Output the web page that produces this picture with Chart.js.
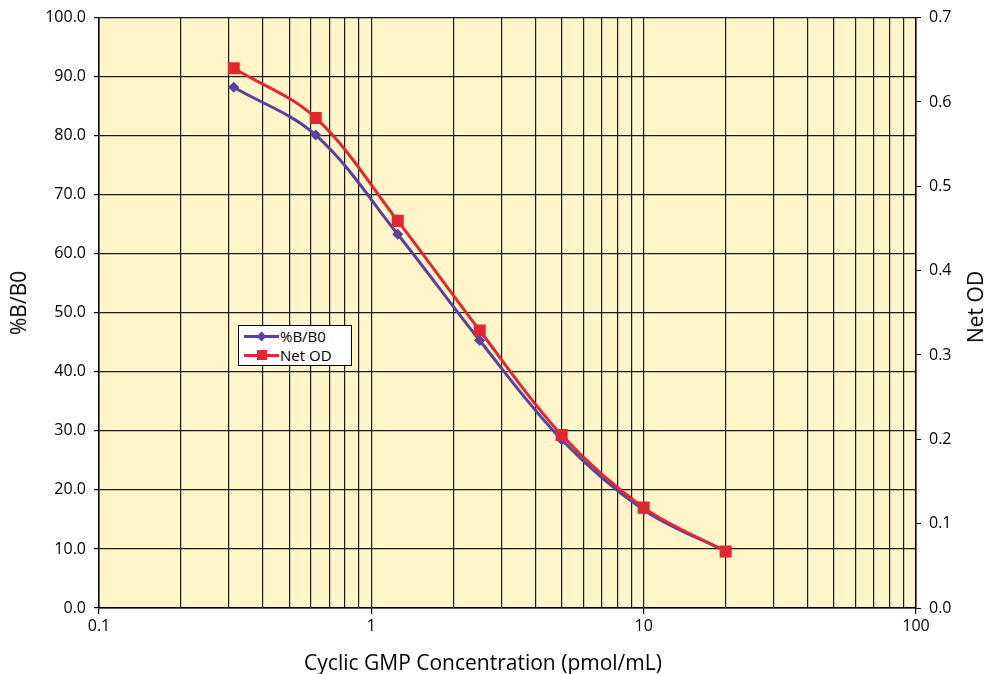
<!DOCTYPE html>
<html>
<head>
<meta charset="utf-8">
<script src="https://cdn.jsdelivr.net/npm/chart.js@4/dist/chart.umd.min.js"></script>
<style>
  html,body{margin:0;padding:0;background:#fff;}
  #wrap{position:relative;width:988px;height:674px;font-family:"Open Sans",sans-serif;}
  #legend{position:absolute;left:238px;top:325px;width:114px;height:41px;background:#fff;border:1px solid #000;box-sizing:border-box;font-size:15px;color:#000;}
  .li{position:absolute;left:5px;height:18px;line-height:18px;}
  .li span.sw{display:inline-block;position:relative;width:36px;height:18px;vertical-align:top;}
  .li span.ln{position:absolute;left:0;top:8px;width:35px;height:3px;}
  .li span.mk{position:absolute;}
  .ttl{position:absolute;font-size:21px;color:#000;white-space:nowrap;}
  #ytitle{left:18px;top:303px;transform:translate(-50%,-50%) rotate(-90deg);}
  #rtitle{left:975px;top:307px;transform:translate(-50%,-50%) rotate(-90deg);}
  #xtitle{left:483px;top:662px;transform:translate(-50%,-50%);}
</style>
</head>
<body>
<div id="wrap">
<canvas id="c" width="988" height="674"></canvas>
<div id="legend"></div>
<div id="ytitle" class="ttl"></div>
<div id="rtitle" class="ttl"></div>
<div id="xtitle" class="ttl"></div>
</div>
<script>
const concentrations = [0.3125, 0.625, 1.25, 2.5, 5, 10, 20];
const pctBB0 = [88.2, 80.1, 63.3, 45.3, 28.5, 16.6, 9.6];
const netOD = [0.640, 0.581, 0.459, 0.329, 0.205, 0.119, 0.067];
const xTicks = [0.1,0.2,0.3,0.4,0.5,0.6,0.7,0.8,0.9,1,2,3,4,5,6,7,8,9,10,20,30,40,50,60,70,80,90,100];
const xLabels = [0.1, 1, 10, 100];
const seriesNames = ['%B/B0', 'Net OD'];
const axisTitles = {x: 'Cyclic GMP Concentration (pmol/mL)', y: '%B/B0', y2: 'Net OD'};

const PURPLE = '#5b3fa3';
const RED = '#e0282e';
const FONT = '"Open Sans", sans-serif';

const bgPlugin = {
  id: 'bg',
  beforeDraw(chart) {
    const {ctx, chartArea: a} = chart;
    ctx.save();
    ctx.fillStyle = '#fff5c9';
    ctx.fillRect(a.left, a.top, a.right - a.left, a.bottom - a.top);
    ctx.restore();
  }
};

const isMajor = v => xLabels.some(m => Math.abs(m - v) < 1e-9);

new Chart(document.getElementById('c'), {
  type: 'line',
  data: {
    datasets: [
      {
        label: seriesNames[0],
        data: concentrations.map((x, i) => ({x, y: pctBB0[i]})),
        yAxisID: 'y',
        borderColor: PURPLE,
        backgroundColor: PURPLE,
        borderWidth: 3,
        pointStyle: 'rectRot',
        pointRadius: 5.5,
        pointBorderWidth: 0,
        tension: 0.35,
        order: 2
      },
      {
        label: seriesNames[1],
        data: concentrations.map((x, i) => ({x, y: netOD[i]})),
        yAxisID: 'y2',
        borderColor: RED,
        backgroundColor: RED,
        borderWidth: 3,
        pointStyle: 'rect',
        pointRadius: 8.5,
        pointBorderWidth: 0,
        tension: 0.35,
        order: 1
      }
    ]
  },
  options: {
    responsive: false,
    animation: false,
    layout: {padding: {top: 16, left: 0, right: 0, bottom: 0}},
    plugins: {
      legend: {display: false},
      tooltip: {enabled: false}
    },
    scales: {
      x: {
        type: 'logarithmic',
        min: 0.1,
        max: 100,
        afterBuildTicks(scale) { scale.ticks = xTicks.map(v => ({value: v, major: isMajor(v)})); },
        afterFit(scale) { scale.height = 66; },
        ticks: {
          autoSkip: false,
          maxRotation: 0,
          padding: 3,
          color: '#000',
          font: {family: FONT, size: 16},
          callback: (v) => isMajor(v) ? String(v) : ''
        },
        grid: {
          color: '#1a1a1a',
          lineWidth: 1.2,
          drawTicks: true,
          tickLength: 6,
          tickColor: (ctx) => (ctx.tick && isMajor(ctx.tick.value)) ? '#000' : 'rgba(0,0,0,0)'
        },
        border: {display: true, color: '#000', width: 1.5}
      },
      y: {
        position: 'left',
        min: 0,
        max: 100,
        afterFit(scale) { scale.width = 99; },
        ticks: {
          stepSize: 10,
          color: '#000',
          padding: 8,
          font: {family: FONT, size: 16},
          callback: v => v.toFixed(1)
        },
        grid: {color: '#1a1a1a', lineWidth: 1.2, tickLength: 5, tickColor: '#000'},
        border: {display: true, color: '#000', width: 1.5}
      },
      y2: {
        position: 'right',
        min: 0,
        max: 0.7,
        afterFit(scale) { scale.width = 72; },
        ticks: {
          stepSize: 0.1,
          color: '#000',
          padding: 8,
          font: {family: FONT, size: 16},
          callback: v => v.toFixed(1)
        },
        grid: {drawOnChartArea: false, tickLength: 5, tickColor: '#000'},
        border: {display: true, color: '#000', width: 1.5}
      }
    }
  },
  plugins: [bgPlugin]
});

// HTML legend
const legend = document.getElementById('legend');
[[seriesNames[0], PURPLE, 'diamond'], [seriesNames[1], RED, 'square']].forEach((s, i) => {
  const d = document.createElement('div');
  d.className = 'li';
  d.style.top = (1 + i * 19) + 'px';
  const sw = document.createElement('span'); sw.className = 'sw';
  const ln = document.createElement('span'); ln.className = 'ln'; ln.style.background = s[1];
  const mk = document.createElement('span'); mk.className = 'mk'; mk.style.background = s[1];
  if (s[2] === 'diamond') { mk.style.width = '7px'; mk.style.height = '7px'; mk.style.left = '14px'; mk.style.top = '6px'; mk.style.transform = 'rotate(45deg)'; }
  else { mk.style.width = '10px'; mk.style.height = '10px'; mk.style.left = '13px'; mk.style.top = '4px'; }
  sw.appendChild(ln); sw.appendChild(mk);
  d.appendChild(sw);
  d.appendChild(document.createTextNode(s[0]));
  legend.appendChild(d);
});
document.getElementById('ytitle').textContent = axisTitles.y;
document.getElementById('rtitle').textContent = axisTitles.y2;
document.getElementById('xtitle').textContent = axisTitles.x;
</script>
</body>
</html>
